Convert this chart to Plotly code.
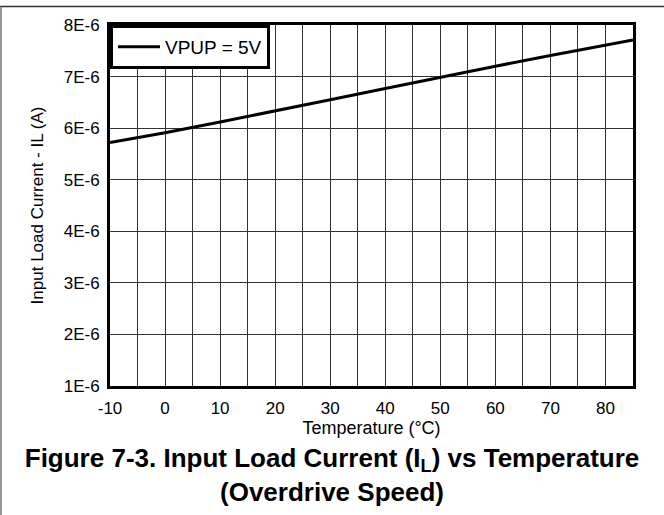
import plotly.graph_objects as go

# temperature (°C) vs input load current (A)
temperature = [-10, 0, 10, 20, 30, 40, 50, 60, 70, 80, 85]
load_current = [5.72e-6, 5.91e-6, 6.12e-6, 6.33e-6, 6.55e-6, 6.77e-6,
                6.99e-6, 7.20e-6, 7.41e-6, 7.61e-6, 7.71e-6]

x_ticks = [-10, 0, 10, 20, 30, 40, 50, 60, 70, 80]
x_labels = ["-10", "0", "10", "20", "30", "40", "50", "60", "70", "80"]
y_ticks = [1e-6, 2e-6, 3e-6, 4e-6, 5e-6, 6e-6, 7e-6, 8e-6]
y_labels = ["1E-6", "2E-6", "3E-6", "4E-6", "5E-6", "6E-6", "7E-6", "8E-6"]

W, H = 664, 515
L, R, T, B = 110, 31, 25, 129
FONT = "Arial, Liberation Sans, sans-serif"

fig = go.Figure()
fig.add_trace(go.Scatter(
    x=temperature, y=load_current,
    mode="lines", name="VPUP = 5V",
    line=dict(color="black", width=3),
))

fig.update_xaxes(
    range=[-10, 85],
    tickvals=x_ticks, ticktext=x_labels,
    showgrid=True, gridcolor="#333", gridwidth=1,
    minor=dict(dtick=5, tick0=-10, showgrid=True, gridcolor="#333", gridwidth=1),
    zeroline=False,
    showline=True, linecolor="black", linewidth=3, mirror=True,
    ticks="", ticklabelstandoff=5,
    tickfont=dict(size=17, color="black"),
    title=dict(text="Temperature (°C)", font=dict(size=18, color="black"), standoff=3),
)
fig.update_yaxes(
    range=[1e-6, 8e-6],
    tickvals=y_ticks, ticktext=y_labels,
    showgrid=True, gridcolor="#333", gridwidth=1,
    zeroline=False,
    showline=True, linecolor="black", linewidth=3, mirror=True,
    ticks="", ticklabelstandoff=4,
    tickfont=dict(size=17, color="black"),
    title=dict(text="Input Load Current - IL (A)", font=dict(size=17, color="black"), standoff=16),
)

# frame lines of the original figure box
px = lambda v: (v - L) / (W - L - R)
py = lambda v: (H - B - v) / (H - T - B)
fig.add_shape(type="line", xref="paper", yref="paper",
              x0=px(0), x1=px(W), y0=py(6.5), y1=py(6.5),
              line=dict(color="#333", width=1.5))
fig.add_shape(type="line", xref="paper", yref="paper",
              x0=px(1), x1=px(1), y0=py(6.5), y1=py(H),
              line=dict(color="#777", width=1.5))

fig.update_layout(
    width=W, height=H,
    margin=dict(l=L, r=R, t=T, b=B),
    paper_bgcolor="white", plot_bgcolor="white",
    font=dict(family=FONT, color="black"),
    showlegend=True,
    legend=dict(
        x=0, y=1, xanchor="left", yanchor="top",
        bgcolor="white", bordercolor="black", borderwidth=3,
        font=dict(size=19, color="black"),
        itemwidth=42,
    ),
    title=dict(
        text="Figure 7-3. Input Load Current (I<sub>L</sub>) vs Temperature<br>(Overdrive Speed)",
        font=dict(size=26, color="black", family=FONT, weight="bold"),
        x=0.5, xref="container", xanchor="center",
        y=(H - 467) / H, yref="container", yanchor="top",
    ),
)

fig.write_html("out.html", config={"displayModeBar": False},
               post_script="document.body.style.margin='0';")
